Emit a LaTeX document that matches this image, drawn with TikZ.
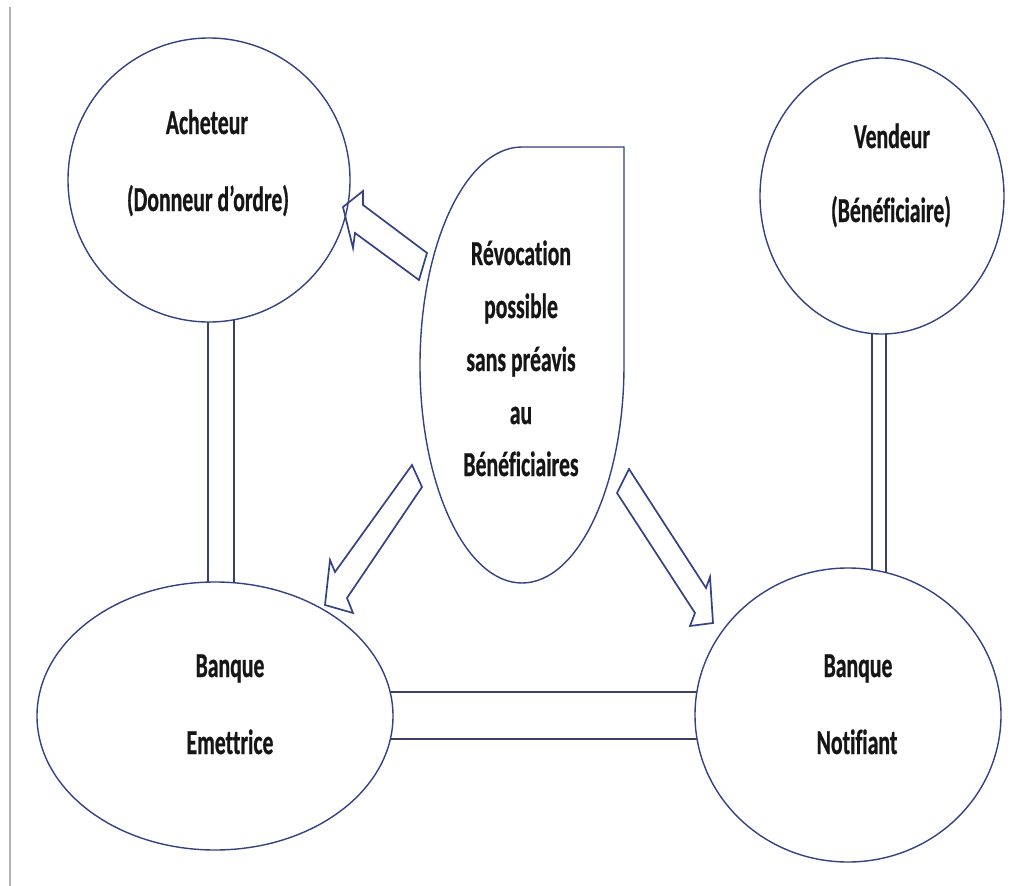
\documentclass[tikz,border=0pt]{standalone}
\usepackage{fontspec}
\newfontfamily\lblfont[FakeStretch=0.62, Ligatures=NoCommon,
  BoldFeatures={FakeBold=0.6}]{Carlito}
\usetikzlibrary{calc,shapes.geometric}

\definecolor{navy}{RGB}{52,66,132}
\definecolor{bardark}{RGB}{58,64,108}
\definecolor{ink}{RGB}{22,22,22}

\tikzset{
  party/.style={ellipse, draw=navy, line width=1.4pt, fill=white, inner sep=0pt},
  bar/.style={draw=bardark, line width=1.7pt, fill=white},
  blockarrow/.style={draw=navy, line width=1.7pt, line join=miter},
  lbl/.style={font=\lblfont\bfseries\fontsize{35}{42}\selectfont, text=ink,
              inner sep=0pt, anchor=base},
}

\begin{document}
\begin{tikzpicture}[x=1pt, y=-1pt]
  \useasboundingbox (0,0) rectangle (1015,886);

  % thin grey rule on the left margin
  \draw[black!30, line width=1.5pt] (10,7) -- (10,886);

  % the four parties (shapes only, texts follow)
  \path (209,180) coordinate (pA) (882,196) coordinate (pV)
        (215,716) coordinate (pE) (848,715) coordinate (pN);

  % hollow bars linking the parties (drawn first, the ellipses cover their ends)
  \draw[bar] ($(pA)+(-1,0)$) rectangle ($(pA |- pE)+(25,0)$);
  \draw[bar] ($(pV)+(-10,0)$) rectangle ($(pV |- pN)+(4,0)$);
  \draw[bar] ($(pE)+(0,-24)$) rectangle ($(pE -| pN)+(0,23)$);

  \node[party, minimum width=282pt, minimum height=284pt] (acheteur)  at (pA) {};
  \node[party, minimum width=244pt, minimum height=276pt] (vendeur)   at (pV) {};
  \node[party, minimum width=356pt, minimum height=268pt] (emettrice) at (pE) {};
  \node[party, minimum width=306pt, minimum height=294pt] (notifiant) at (pN) {};

  % labels of the parties
  \node[lbl] (tA1) at (207,134) {Acheteur};
  \node[lbl] (tA2) at (208,211) {(Donneur d’ordre)};
  \node[lbl] (tV1) at (892,148) {Vendeur};
  \node[lbl] (tV2) at (891,222) {(Bénéficiaire)};
  \node[lbl] (tE1) at (230,677) {Banque};
  \node[lbl] (tE2) at (230,754) {Emettrice};
  \node[lbl] (tN1) at (858,677) {Banque};
  \node[lbl] (tN2) at (857,754) {Notifiant};

  % block arrows leaving the central teardrop
  \draw[blockarrow] (427,253) -- (363,205) -- (363,191) -- (343,207)
                    -- (353,248) -- (355,233) -- (419,280) -- cycle;
  \draw[blockarrow] (412,465) -- (335,572) -- (330,560) -- (325,605)
                    -- (353,613) -- (347,598) -- (422,487) -- cycle;
  \draw[blockarrow] (629,469) -- (706,588) -- (710,577) -- (713,623)
                    -- (690,626) -- (695,613) -- (617,493) -- cycle;

  % teardrop: an ellipse whose upper right quarter ends in a square corner
  \draw[draw=navy, line width=1.4pt, fill=white]
    (624,147) -- (522,147)
    arc[start angle=270, end angle=0, x radius=102, y radius=218]
    -- cycle;

  \node[lbl] (r1) at (521,265) {Révocation};
  \node[lbl] (r2) at (521,318) {possible};
  \node[lbl] (r3) at (521,371) {sans préavis};
  \node[lbl] (r4) at (521,424) {au};
  \node[lbl] (r5) at (521,476) {Bénéficiaires};
\end{tikzpicture}
\end{document}
